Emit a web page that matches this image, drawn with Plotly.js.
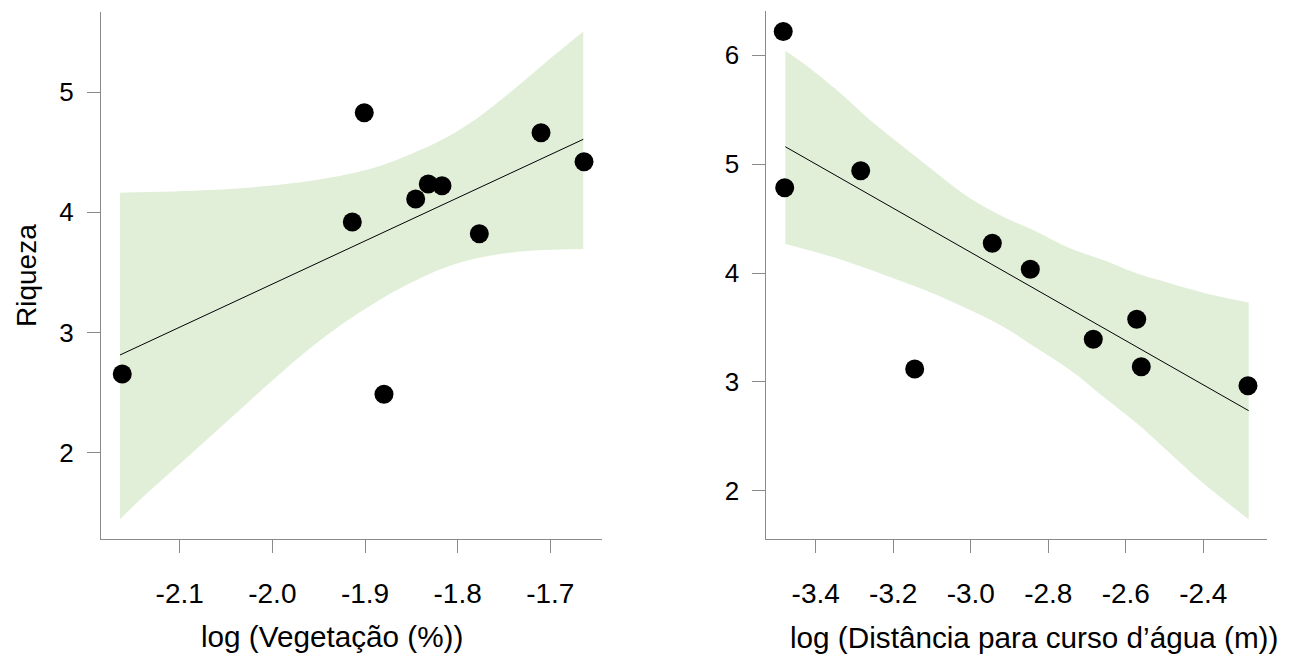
<!DOCTYPE html>
<html>
<head>
<meta charset="utf-8">
<script src="https://cdn.plot.ly/plotly-3.0.1.min.js"></script>
<style>
  html, body { margin: 0; padding: 0; background: #ffffff; }
  #chart { width: 1296px; height: 662px; }
</style>
</head>
<body>
<div id="chart"></div>
<script>
// ---- Left panel: Riqueza vs log(Vegetação (%)) ----
const vegX = [-2.1620, -1.9008, -1.9137, -1.8795, -1.8453, -1.8317, -1.8169, -1.7766, -1.7100, -1.6636];
const vegY = [2.654, 4.830, 3.920, 2.485, 4.111, 4.236, 4.222, 3.822, 4.663, 4.422];
const vegFitX = [-2.1644, -1.6644];
const vegFitY = [2.812, 4.608];
const vegUpperX = [-2.1644, -2.0673, -1.9953, -1.9413, -1.8874, -1.8514, -1.8155, -1.7794, -1.7435, -1.7076, -1.6644];
const vegUpperY = [4.164, 4.186, 4.228, 4.284, 4.378, 4.482, 4.610, 4.782, 4.998, 5.232, 5.505];
const vegLowerX = [-2.1644, -2.1393, -2.1032, -2.0673, -2.0314, -1.9953, -1.9594, -1.9234, -1.8874, -1.8514, -1.8155, -1.7794, -1.7435, -1.7076, -1.6644];
const vegLowerY = [1.444, 1.632, 1.882, 2.132, 2.381, 2.631, 2.868, 3.076, 3.256, 3.409, 3.534, 3.617, 3.664, 3.686, 3.695];

// ---- Right panel: Riqueza vs log(Distância para curso d'água (m)) ----
const distX = [-3.4838, -3.4800, -3.2839, -3.1446, -2.9444, -2.8463, -2.6838, -2.5718, -2.5600, -2.2847];
const distY = [6.218, 4.784, 4.940, 3.118, 4.273, 4.034, 3.391, 3.575, 3.139, 2.965];
const distFitX = [-3.4784, -2.2829];
const distFitY = [5.160, 2.735];
const distUpperX = [-3.4784, -3.4320, -3.3458, -3.2599, -3.1740, -3.0878, -3.0019, -2.9160, -2.8298, -2.7439, -2.6580, -2.5718, -2.4859, -2.4000, -2.2829];
const distUpperY = [6.042, 5.927, 5.681, 5.406, 5.160, 4.916, 4.686, 4.517, 4.379, 4.227, 4.119, 3.997, 3.905, 3.819, 3.729];
const distLowerX = [-3.4784, -3.3458, -3.1998, -3.0878, -3.0019, -2.9160, -2.8298, -2.7439, -2.6580, -2.5718, -2.4859, -2.4000, -2.2829];
const distLowerY = [4.266, 4.135, 3.951, 3.798, 3.660, 3.507, 3.308, 3.109, 2.864, 2.619, 2.344, 2.068, 1.737];

// ---- Tick labels ----
const vegTickVals = [-2.1, -2.0, -1.9, -1.8, -1.7];
const vegTickText = ['-2.1', '-2.0', '-1.9', '-1.8', '-1.7'];
const distTickVals = [-3.4, -3.2, -3.0, -2.8, -2.6, -2.4];
const distTickText = ['-3.4', '-3.2', '-3.0', '-2.8', '-2.6', '-2.4'];
const rich1TickVals = [2, 3, 4, 5];
const rich2TickVals = [2, 3, 4, 5, 6];

const bandColor = 'rgb(225,239,217)';
const FONT = 'Liberation Sans, Arial, sans-serif';

function band(lx, ly, ux, uy, xa, ya) {
  return [
    { x: lx, y: ly, xaxis: xa, yaxis: ya, type: 'scatter', mode: 'lines',
      line: { width: 0, shape: 'spline', color: bandColor }, hoverinfo: 'skip', showlegend: false },
    { x: ux, y: uy, xaxis: xa, yaxis: ya, type: 'scatter', mode: 'lines', fill: 'tonexty',
      fillcolor: bandColor, line: { width: 0, shape: 'spline', color: bandColor }, hoverinfo: 'skip', showlegend: false }
  ];
}

const traces = [
  ...band(vegLowerX, vegLowerY, vegUpperX, vegUpperY, 'x', 'y'),
  { x: vegFitX, y: vegFitY, xaxis: 'x', yaxis: 'y', type: 'scatter', mode: 'lines',
    line: { color: '#000', width: 1 }, showlegend: false },
  { x: vegX, y: vegY, xaxis: 'x', yaxis: 'y', type: 'scatter', mode: 'markers',
    marker: { color: '#000', size: 19 }, cliponaxis: false, showlegend: false },
  ...band(distLowerX, distLowerY, distUpperX, distUpperY, 'x2', 'y2'),
  { x: distFitX, y: distFitY, xaxis: 'x2', yaxis: 'y2', type: 'scatter', mode: 'lines',
    line: { color: '#000', width: 1 }, showlegend: false },
  { x: distX, y: distY, xaxis: 'x2', yaxis: 'y2', type: 'scatter', mode: 'markers',
    marker: { color: '#000', size: 19 }, cliponaxis: false, showlegend: false }
];

const axisCommon = {
  showline: true, linecolor: '#8a8a8a', linewidth: 1,
  ticks: 'outside', ticklen: 13, tickcolor: '#8a8a8a', tickwidth: 1,
  showgrid: false, zeroline: false,
  tickfont: { family: FONT, size: 28, color: '#000' },
  fixedrange: true
};
const yTickFont = { family: FONT, size: 26, color: '#000' };

const W = 1296, H = 662;
const layout = {
  width: W, height: H,
  margin: { l: 0, r: 0, t: 0, b: 0 },
  paper_bgcolor: '#fff', plot_bgcolor: '#fff',
  showlegend: false,
  xaxis: Object.assign({}, axisCommon, {
    domain: [101 / W, 601.7 / W], range: [-2.18494, -1.64452],
    tickmode: 'array', tickvals: vegTickVals, ticktext: vegTickText,
    anchor: 'y', ticklabelstandoff: 16
  }),
  yaxis: Object.assign({}, axisCommon, {
    domain: [1 - 539.3 / H, 1 - 11.8 / H], range: [1.277, 5.670],
    tickmode: 'array', tickvals: rich1TickVals, ticktext: rich1TickVals.map(String),
    anchor: 'x', ticklabelstandoff: 8, tickfont: yTickFont
  }),
  xaxis2: Object.assign({}, axisCommon, {
    domain: [766.3 / W, 1266.7 / W], range: [-3.5275, -2.2364],
    tickmode: 'array', tickvals: distTickVals, ticktext: distTickText,
    anchor: 'y2', ticklabelstandoff: 16
  }),
  yaxis2: Object.assign({}, axisCommon, {
    domain: [1 - 539.3 / H, 1 - 10.5 / H], range: [1.5535, 6.4116],
    tickmode: 'array', tickvals: rich2TickVals, ticktext: rich2TickVals.map(String),
    anchor: 'x2', ticklabelstandoff: 8, tickfont: yTickFont
  }),
  annotations: [
    { text: 'Riqueza', xref: 'paper', yref: 'paper', x: 26 / W, y: 1 - 276 / H,
      xanchor: 'center', yanchor: 'middle', textangle: -90, showarrow: false,
      font: { family: FONT, size: 28, color: '#000' } },
    { text: 'log (Vegetação (%))', xref: 'paper', yref: 'paper', x: 332 / W, y: 1 - 636 / H,
      xanchor: 'center', yanchor: 'middle', showarrow: false,
      font: { family: FONT, size: 29.7, color: '#000' } },
    { text: 'log (Distância para curso d’água (m))', xref: 'paper', yref: 'paper', x: 1034 / W, y: 1 - 637 / H,
      xanchor: 'center', yanchor: 'middle', showarrow: false,
      font: { family: FONT, size: 29.7, color: '#000' } }
  ]
};

Plotly.newPlot('chart', traces, layout, { staticPlot: true, displayModeBar: false });
</script>
</body>
</html>
